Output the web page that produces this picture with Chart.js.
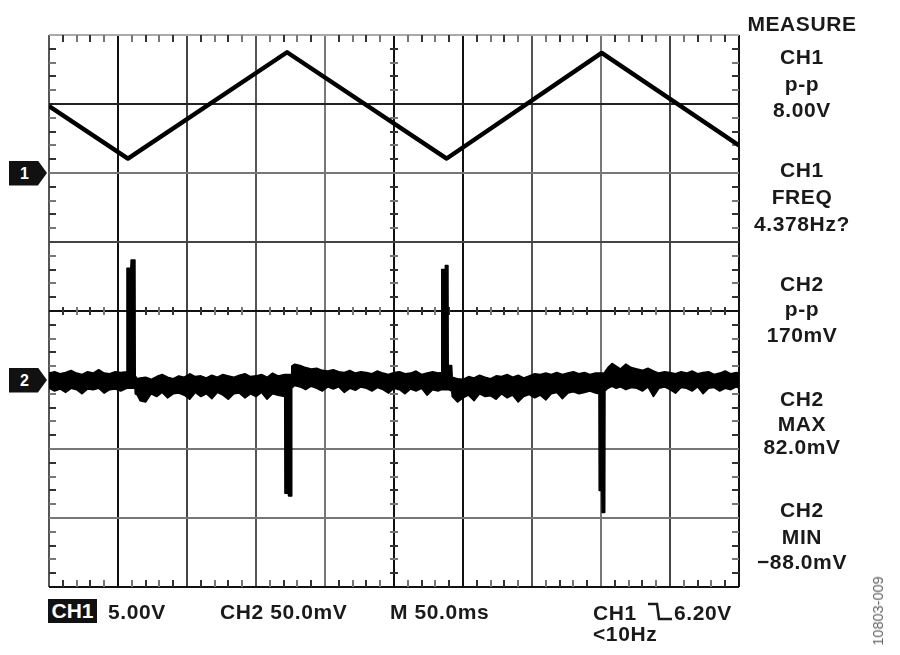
<!DOCTYPE html>
<html>
<head>
<meta charset="utf-8">
<script src="https://cdn.jsdelivr.net/npm/chart.js@4.4.1/dist/chart.umd.min.js"></script>
<style>
  body { margin: 0; background: #fff; }
  #wrap { position: relative; width: 900px; height: 655px; overflow: hidden;
    font-family: "Liberation Sans", Arial, sans-serif; font-weight: bold; color: #1a1a1a; }
  #scope { position: absolute; left: 0; top: 0; }
  .t { position: absolute; font-size: 21px; line-height: 22px; letter-spacing: 0.6px; white-space: nowrap; }
  .panel { position: absolute; left: 742px; width: 120px; text-align: center; }
  .mark { position: absolute; left: 9px; width: 38px; height: 25px; background: #111; color: #fff;
    font-size: 16px; line-height: 25px; padding-left: 11px; box-sizing: border-box;
    clip-path: polygon(0 0, 76% 0, 100% 50%, 76% 100%, 0 100%); }
  .inv { background: #111; color: #fff; left: 48px; top: 599px; width: 49px; height: 24px; line-height: 24px; text-align: center; letter-spacing: 0; }
  #fig { position: absolute; left: 878px; top: 611px; font-size: 14.5px; font-weight: normal; color: #666;
    transform: translate(-50%, -50%) rotate(-90deg); white-space: nowrap; }
</style>
</head>
<body>
<div id="wrap">
  <canvas id="scope" width="900" height="655"></canvas>

  <div class="mark" id="mark1">1</div>
  <div class="mark" id="mark2">2</div>

  <div class="t panel" style="top:13px">MEASURE</div>
  <div class="t panel" style="top:46px">CH1</div>
  <div class="t panel" style="top:73px">p-p</div>
  <div class="t panel" style="top:99px">8.00V</div>
  <div class="t panel" style="top:159px">CH1</div>
  <div class="t panel" style="top:186px">FREQ</div>
  <div class="t panel" style="top:213px">4.378Hz?</div>
  <div class="t panel" style="top:273px">CH2</div>
  <div class="t panel" style="top:298px">p-p</div>
  <div class="t panel" style="top:324px">170mV</div>
  <div class="t panel" style="top:388px">CH2</div>
  <div class="t panel" style="top:413px">MAX</div>
  <div class="t panel" style="top:436px">82.0mV</div>
  <div class="t panel" style="top:499px">CH2</div>
  <div class="t panel" style="top:526px">MIN</div>
  <div class="t panel" style="top:551px">−88.0mV</div>

  <div class="t inv">CH1</div>
  <div class="t" style="left:108px; top:601px">5.00V</div>
  <div class="t" style="left:220px; top:601px">CH2 50.0mV</div>
  <div class="t" style="left:390px; top:601px">M 50.0ms</div>
  <div class="t" style="left:593px; top:602px">CH1</div>
  <svg style="position:absolute; left:647px; top:602px" width="26" height="20">
    <polyline points="1,2 10,2 12,17 25,17" fill="none" stroke="#1a1a1a" stroke-width="2.5"/>
  </svg>
  <div class="t" style="left:674px; top:602px">6.20V</div>
  <div class="t" style="left:593px; top:623px">&lt;10Hz</div>

  <div id="fig">10803-009</div>
</div>

<script>
// CH1: triangle, volts (5 V/div), time in ms (50 ms/div)
const ch1Time = [0, 57.2, 172.5, 288.2, 400.5, 500];
const ch1Volts = [4.85, 1.05, 8.75, 1.05, 8.7, 2.0];

// CH2: noisy trace, upper and lower edge of the band, mV (50 mV/div)
const ch2Time = [
  0, 4, 8, 12, 16, 20, 24, 28, 32, 36, 40, 44, 48, 52, 56.3,
  56.5, 59.3, 59.5, 62.3, 62.5,
  64, 66, 70, 74, 78, 82, 86, 90, 94, 98, 102, 106, 110, 114, 118, 122, 126, 130, 134, 138, 142, 146, 150, 154, 158, 162, 166, 170.8,
  171, 173.4, 173.6, 175.7, 175.9,
  178, 182, 186, 190, 194, 198, 202, 206, 210, 214, 218, 222, 226, 230, 234, 238, 242, 246, 250, 254, 258, 262, 266, 270, 274, 278, 282, 284.4,
  284.6, 287, 287.2, 289.1, 289.3, 291.8,
  292.2, 296, 300, 304, 308, 312, 316, 320, 324, 328, 332, 336, 340, 344, 348, 352, 356, 360, 364, 368, 372, 376, 380, 384, 388, 392, 396, 398.5,
  398.7, 400.6, 400.8, 402.7, 402.9,
  405, 408, 411, 414, 418, 422, 426, 430, 434, 438, 442, 446, 450, 454, 458, 462, 466, 470, 474, 478, 482, 486, 490, 494, 498, 500
];
const ch2Upper = [
  5, 6, 4.5, 5.5, 7, 5, 4, 6, 5, 7.5, 5, 4.5, 6, 5.5, 6,
  81, 81, 87, 87, 3,
  1, 1.5, 2, 0.5, 2.5, 4, 2, 1, 3, 2, 4.5, 2.5, 3, 1.5, 3.5, 2, 4, 3, 2, 3.5, 4.5, 2.5, 3, 4, 2, 5, 3, 4,
  4, 4, 4, 4, 10,
  11.5, 10.5, 9, 8, 8.5, 7, 6.5, 7.5, 6, 5.5, 7, 5, 6, 5.5, 4.5, 6.5, 5, 4, 5.5, 6, 4.5, 5, 6.5, 4, 5, 6, 5, 5.5,
  80, 80, 83, 83, 10.5, 10.5,
  2, 1, 0.5, 2.5, 1.5, 3.5, 2, 1, 3, 2.5, 4, 2, 3.5, 1.5, 3, 4.5, 4, 5, 4, 5.5, 4, 5, 6, 4.5, 5.5, 4, 5, 5,
  5, 5, 5, 5, 6,
  9, 12, 10, 8, 11.5, 9, 8, 7, 8.5, 6.5, 5, 6, 5.5, 4.5, 6, 5, 6.5, 4.5, 5.5, 6, 4, 5, 6.5, 4.5, 5.5, 5
];
const ch2Lower = [
  -6, -8, -6.5, -9, -6, -7, -10, -6.5, -7, -6, -9.5, -7, -6.5, -8, -6,
  -6, -6, -6, -6, -10,
  -11, -15, -16, -10, -12, -9, -13, -10, -9.5, -11, -14, -9, -12, -10, -13.5, -9, -11, -14, -10, -9.5, -13, -10, -12, -9, -14, -10, -11, -12,
  -82, -82, -84, -84, -6,
  -4, -5, -7, -4.5, -6, -8, -5, -6.5, -5, -9, -6, -7.5, -5, -6, -8, -5.5, -7, -9.5, -6, -7, -10, -6.5, -8, -6, -11, -7, -8, -7,
  -7, -7, -7, -7, -7, -8,
  -12, -16, -13, -11, -15, -10, -12, -11.5, -14, -10, -13, -11, -16, -12, -10.5, -13, -11, -14.5, -10, -9, -13.5, -9.5, -8.5, -10, -9, -8, -9.5, -10,
  -80, -80, -96, -96, -8,
  -6, -4.5, -6, -5, -7, -5.5, -6, -8, -5, -12, -6, -5, -7, -9.5, -5.5, -6, -8, -5, -10, -6, -5.5, -8, -6, -7, -5, -6
];

// grid line shades, left to right and bottom to top
const xGridColors = ['#555', '#111', '#444', '#555', '#777', '#111', '#111', '#555', '#777', '#444', '#111'];
const yGridColors = ['#111', '#777', '#777', '#555', '#111', '#444', '#777', '#222', '#aaa'];

function points(xs, ys) {
  return xs.map((x, i) => ({ x: x, y: ys[i] }));
}

const scopeTicks = {
  id: 'scopeTicks',
  beforeDatasetsDraw(chart) {
    const ctx = chart.ctx;
    const a = chart.chartArea;
    const x = chart.scales.x;
    const y = chart.scales.y;
    const cx = x.getPixelForValue(250);
    const cy = y.getPixelForValue(-10);
    ctx.save();
    ctx.lineWidth = 2;
    for (let t = 10; t < 500; t += 10) {
      if (t % 50 === 0) continue;
      const px = Math.round(x.getPixelForValue(t));
      ctx.strokeStyle = (t / 10) % 2 ? '#333' : '#777';
      ctx.beginPath();
      ctx.moveTo(px, a.top); ctx.lineTo(px, a.top + 7);
      ctx.moveTo(px, a.bottom); ctx.lineTo(px, a.bottom - 7);
      ctx.moveTo(px, cy - 4); ctx.lineTo(px, cy + 4);
      ctx.stroke();
    }
    for (let v = -29; v < 10; v++) {
      if (v % 5 === 0) continue;
      const py = Math.round(y.getPixelForValue(v));
      ctx.strokeStyle = v % 2 ? '#333' : '#777';
      ctx.beginPath();
      ctx.moveTo(a.left, py); ctx.lineTo(a.left + 7, py);
      ctx.moveTo(a.right, py); ctx.lineTo(a.right - 7, py);
      ctx.moveTo(cx - 4, py); ctx.lineTo(cx + 4, py);
      ctx.stroke();
    }
    ctx.restore();
  },
  afterDraw(chart) {
    // ground markers for each channel
    document.getElementById('mark1').style.top = (chart.scales.y.getPixelForValue(0) - 12.5) + 'px';
    document.getElementById('mark2').style.top = (chart.scales.y2.getPixelForValue(0) - 12.5) + 'px';
  }
};

new Chart(document.getElementById('scope'), {
  type: 'line',
  data: {
    datasets: [
      {
        label: 'CH1',
        data: points(ch1Time, ch1Volts),
        yAxisID: 'y',
        borderColor: '#000',
        borderWidth: 4.5,
        pointRadius: 0,
        fill: false
      },
      {
        label: 'CH2 upper',
        data: points(ch2Time, ch2Upper),
        yAxisID: 'y2',
        borderColor: '#000',
        backgroundColor: '#000',
        borderWidth: 1.5,
        pointRadius: 0,
        fill: '+1'
      },
      {
        label: 'CH2 lower',
        data: points(ch2Time, ch2Lower),
        yAxisID: 'y2',
        borderColor: '#000',
        borderWidth: 1.5,
        pointRadius: 0,
        fill: false
      }
    ]
  },
  options: {
    responsive: false,
    animation: false,
    layout: { padding: { left: 49, top: 35, right: 161, bottom: 68 } },
    plugins: { legend: { display: false }, tooltip: { enabled: false } },
    elements: { line: { tension: 0, borderJoinStyle: 'round' } },
    scales: {
      x: {
        type: 'linear', min: 0, max: 500,
        ticks: { display: false, stepSize: 50 },
        grid: { drawTicks: false, lineWidth: 2, color: c => xGridColors[c.index] },
        border: { display: false }
      },
      y: {
        type: 'linear', min: -30, max: 10,
        ticks: { display: false, stepSize: 5 },
        grid: { drawTicks: false, lineWidth: 2, color: c => yGridColors[c.index] },
        border: { display: false }
      },
      y2: { type: 'linear', min: -150, max: 250, display: false }
    }
  },
  plugins: [scopeTicks]
});
</script>
</body>
</html>
